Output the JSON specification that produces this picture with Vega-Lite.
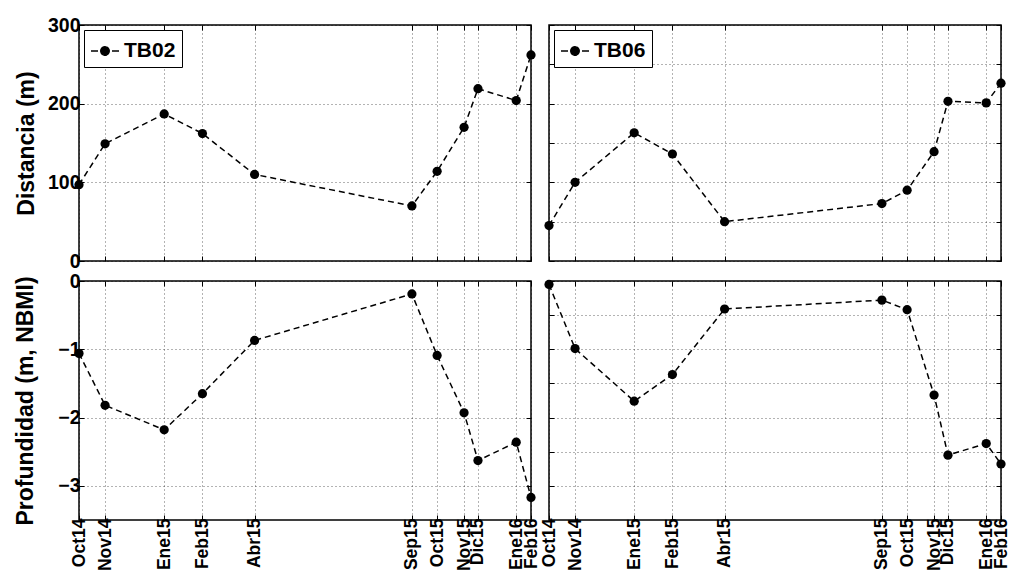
{
  "$schema": "https://vega.github.io/schema/vega-lite/v6.json",
  "background": "white",
  "padding": {"left": 14, "top": 14, "right": 4, "bottom": 4},
  "data": {"values": [
    {"est": "TB02", "campana": "Oct14", "dia": 0, "dist": 97, "prof": -1.06},
    {"est": "TB02", "campana": "Nov14", "dia": 30, "dist": 149, "prof": -1.82},
    {"est": "TB02", "campana": "Ene15", "dia": 98, "dist": 187, "prof": -2.18},
    {"est": "TB02", "campana": "Feb15", "dia": 142, "dist": 162, "prof": -1.65},
    {"est": "TB02", "campana": "Abr15", "dia": 202, "dist": 110, "prof": -0.87},
    {"est": "TB02", "campana": "Sep15", "dia": 383, "dist": 70, "prof": -0.19},
    {"est": "TB02", "campana": "Oct15", "dia": 412, "dist": 114, "prof": -1.09},
    {"est": "TB02", "campana": "Nov15", "dia": 443, "dist": 170, "prof": -1.93},
    {"est": "TB02", "campana": "Dic15", "dia": 459, "dist": 219, "prof": -2.63},
    {"est": "TB02", "campana": "Ene16", "dia": 503, "dist": 204, "prof": -2.36},
    {"est": "TB02", "campana": "Feb16", "dia": 520, "dist": 262, "prof": -3.17},
    {"est": "TB06", "campana": "Oct14", "dia": 0, "dist": 45, "prof": -0.05},
    {"est": "TB06", "campana": "Nov14", "dia": 30, "dist": 100, "prof": -0.99},
    {"est": "TB06", "campana": "Ene15", "dia": 98, "dist": 163, "prof": -1.76},
    {"est": "TB06", "campana": "Feb15", "dia": 142, "dist": 136, "prof": -1.37},
    {"est": "TB06", "campana": "Abr15", "dia": 202, "dist": 50, "prof": -0.41},
    {"est": "TB06", "campana": "Sep15", "dia": 383, "dist": 73, "prof": -0.28},
    {"est": "TB06", "campana": "Oct15", "dia": 412, "dist": 90, "prof": -0.42},
    {"est": "TB06", "campana": "Nov15", "dia": 443, "dist": 139, "prof": -1.67},
    {"est": "TB06", "campana": "Dic15", "dia": 459, "dist": 203, "prof": -2.55},
    {"est": "TB06", "campana": "Ene16", "dia": 503, "dist": 201, "prof": -2.38},
    {"est": "TB06", "campana": "Feb16", "dia": 520, "dist": 226, "prof": -2.68}
  ]},
  "columns": 2,
  "bounds": "flush",
  "spacing": {"row": 20, "column": 18},
  "resolve": {"scale": {"color": "independent"}, "legend": {"color": "independent"}},
  "concat": [
    {
      "width": 452, "height": 236,
      "transform": [{"filter": "datum.est === 'TB02'"}],
      "layer": [
        {"mark": {"type": "line", "strokeDash": [6, 4], "strokeWidth": 1.5},
         "encoding": {
           "x": {"field": "dia", "type": "quantitative", "scale": {"domain": [0, 520], "nice": false, "zero": false},
                 "axis": {"values": [0, 30, 98, 142, 202, 383, 412, 443, 459, 503, 520], "labels": false, "title": null, "grid": true}},
           "y": {"field": "dist", "type": "quantitative", "scale": {"domain": [0, 300], "nice": false},
                 "axis": {"values": [0, 100, 200, 300], "title": "Distancia (m)", "labelFontSize": 19.5, "labelPadding": 4, "titlePadding": 9, "grid": true}},
           "color": {"field": "est", "type": "nominal", "scale": {"range": ["black"]},
                     "legend": {"title": null, "orient": "top-left", "offset": 5, "padding": 6, "strokeColor": "black", "fillColor": "white",
                                "symbolType": "M-1,0L-0.5,0M0.5,0L1,0M0.3,0A0.3,0.3,0,1,1,-0.3,0A0.3,0.3,0,1,1,0.3,0Z",
                                "symbolSize": 784, "symbolStrokeWidth": 1.5, "symbolFillColor": "black", "symbolStrokeColor": "black", "symbolDash": [1, 0],
                                "labelFontSize": 21, "labelFontWeight": "bold", "labelFont": "Liberation Sans", "labelColor": "black", "labelOffset": 4}}
         }},
        {"mark": {"type": "point", "filled": true, "size": 85, "opacity": 1},
         "encoding": {
           "x": {"field": "dia", "type": "quantitative", "axis": null},
           "y": {"field": "dist", "type": "quantitative", "axis": null},
           "color": {"field": "est", "type": "nominal"}
         }},
        {"mark": {"type": "point", "opacity": 0},
         "encoding": {
           "x": {"field": "dia", "type": "quantitative", "axis": {"orient": "top", "values": [0, 30, 98, 142, 202, 383, 412, 443, 459, 503, 520], "labels": false, "title": null, "grid": false}},
           "y": {"field": "dist", "type": "quantitative", "axis": {"orient": "right", "values": [0, 100, 200, 300], "labels": false, "title": null, "grid": false}}
         }}
      ],
      "resolve": {"axis": {"x": "independent", "y": "independent"}}
    },
    {
      "width": 452, "height": 236,
      "transform": [{"filter": "datum.est === 'TB06'"}],
      "layer": [
        {"mark": {"type": "line", "strokeDash": [6, 4], "strokeWidth": 1.5},
         "encoding": {
           "x": {"field": "dia", "type": "quantitative", "scale": {"domain": [0, 520], "nice": false, "zero": false},
                 "axis": {"values": [0, 30, 98, 142, 202, 383, 412, 443, 459, 503, 520], "labels": false, "title": null, "grid": true}},
           "y": {"field": "dist", "type": "quantitative", "scale": {"domain": [0, 300], "nice": false},
                 "axis": {"values": [0, 50, 100, 150, 200, 250, 300], "labels": false, "title": null, "grid": true}},
           "color": {"field": "est", "type": "nominal", "scale": {"range": ["black"]},
                     "legend": {"title": null, "orient": "top-left", "offset": 5, "padding": 6, "strokeColor": "black", "fillColor": "white",
                                "symbolType": "M-1,0L-0.5,0M0.5,0L1,0M0.3,0A0.3,0.3,0,1,1,-0.3,0A0.3,0.3,0,1,1,0.3,0Z",
                                "symbolSize": 784, "symbolStrokeWidth": 1.5, "symbolFillColor": "black", "symbolStrokeColor": "black", "symbolDash": [1, 0],
                                "labelFontSize": 21, "labelFontWeight": "bold", "labelFont": "Liberation Sans", "labelColor": "black", "labelOffset": 4}}
         }},
        {"mark": {"type": "point", "filled": true, "size": 85, "opacity": 1},
         "encoding": {
           "x": {"field": "dia", "type": "quantitative", "axis": null},
           "y": {"field": "dist", "type": "quantitative", "axis": null},
           "color": {"field": "est", "type": "nominal"}
         }},
        {"mark": {"type": "point", "opacity": 0},
         "encoding": {
           "x": {"field": "dia", "type": "quantitative", "axis": {"orient": "top", "values": [0, 30, 98, 142, 202, 383, 412, 443, 459, 503, 520], "labels": false, "title": null, "grid": false}},
           "y": {"field": "dist", "type": "quantitative", "axis": {"orient": "right", "values": [0, 50, 100, 150, 200, 250, 300], "labels": false, "title": null, "grid": false}}
         }}
      ],
      "resolve": {"axis": {"x": "independent", "y": "independent"}}
    },
    {
      "width": 452, "height": 239,
      "transform": [{"filter": "datum.est === 'TB02'"}],
      "layer": [
        {"mark": {"type": "line", "strokeDash": [6, 4], "strokeWidth": 1.5, "color": "black"},
         "encoding": {
           "x": {"field": "dia", "type": "quantitative", "scale": {"domain": [0, 520], "nice": false, "zero": false},
                 "axis": {"values": [0, 30, 98, 142, 202, 383, 412, 443, 459, 503, 520], "title": null, "grid": true, "labelAngle": -90, "labelFontSize": 17.5, "labelPadding": 3,
                          "labelExpr": "['Oct14','Nov14','Ene15','Feb15','Abr15','Sep15','Oct15','Nov15','Dic15','Ene16','Feb16'][indexof([0,30,98,142,202,383,412,443,459,503,520], datum.value)]"}},
           "y": {"field": "prof", "type": "quantitative", "scale": {"domain": [-3.5, 0], "nice": false, "zero": false},
                 "axis": {"values": [-3, -2, -1, 0], "format": "d", "title": "Profundidad (m, NBMI)", "labelFontSize": 19.5, "labelPadding": 4, "titlePadding": 20, "grid": true}}
         }},
        {"mark": {"type": "point", "filled": true, "size": 85, "opacity": 1, "color": "black"},
         "encoding": {
           "x": {"field": "dia", "type": "quantitative", "axis": null},
           "y": {"field": "prof", "type": "quantitative", "axis": null}
         }},
        {"mark": {"type": "point", "opacity": 0},
         "encoding": {
           "x": {"field": "dia", "type": "quantitative", "axis": {"orient": "top", "values": [0, 30, 98, 142, 202, 383, 412, 443, 459, 503, 520], "labels": false, "title": null, "grid": false}},
           "y": {"field": "prof", "type": "quantitative", "axis": {"orient": "right", "values": [-3, -2, -1, 0], "labels": false, "title": null, "grid": false}}
         }}
      ],
      "resolve": {"axis": {"x": "independent", "y": "independent"}}
    },
    {
      "width": 452, "height": 239,
      "transform": [{"filter": "datum.est === 'TB06'"}],
      "layer": [
        {"mark": {"type": "line", "strokeDash": [6, 4], "strokeWidth": 1.5, "color": "black"},
         "encoding": {
           "x": {"field": "dia", "type": "quantitative", "scale": {"domain": [0, 520], "nice": false, "zero": false},
                 "axis": {"values": [0, 30, 98, 142, 202, 383, 412, 443, 459, 503, 520], "title": null, "grid": true, "labelAngle": -90, "labelFontSize": 17.5, "labelPadding": 3,
                          "labelExpr": "['Oct14','Nov14','Ene15','Feb15','Abr15','Sep15','Oct15','Nov15','Dic15','Ene16','Feb16'][indexof([0,30,98,142,202,383,412,443,459,503,520], datum.value)]"}},
           "y": {"field": "prof", "type": "quantitative", "scale": {"domain": [-3.5, 0], "nice": false, "zero": false},
                 "axis": {"values": [-3, -2.5, -2, -1.5, -1, -0.5, 0], "labels": false, "title": null, "grid": true}}
         }},
        {"mark": {"type": "point", "filled": true, "size": 85, "opacity": 1, "color": "black"},
         "encoding": {
           "x": {"field": "dia", "type": "quantitative", "axis": null},
           "y": {"field": "prof", "type": "quantitative", "axis": null}
         }},
        {"mark": {"type": "point", "opacity": 0},
         "encoding": {
           "x": {"field": "dia", "type": "quantitative", "axis": {"orient": "top", "values": [0, 30, 98, 142, 202, 383, 412, 443, 459, 503, 520], "labels": false, "title": null, "grid": false}},
           "y": {"field": "prof", "type": "quantitative", "axis": {"orient": "right", "values": [-3, -2.5, -2, -1.5, -1, -0.5, 0], "labels": false, "title": null, "grid": false}}
         }}
      ],
      "resolve": {"axis": {"x": "independent", "y": "independent"}}
    }
  ],
  "config": {
    "font": "Liberation Sans",
    "view": {"stroke": "black", "strokeWidth": 1.5},
    "axis": {
      "domain": false, "tickColor": "black", "tickSize": -5, "tickWidth": 1,
      "gridColor": "black", "gridDash": [1, 3], "gridOpacity": 0.75, "gridWidth": 0.8,
      "labelFont": "Liberation Sans", "labelFontWeight": "bold", "labelColor": "black",
      "titleFont": "Liberation Sans", "titleFontWeight": "bold", "titleFontSize": 23, "titleColor": "black",
      "labelOverlap": false, "labelFlush": false, "labelBound": false
    }
  }
}
